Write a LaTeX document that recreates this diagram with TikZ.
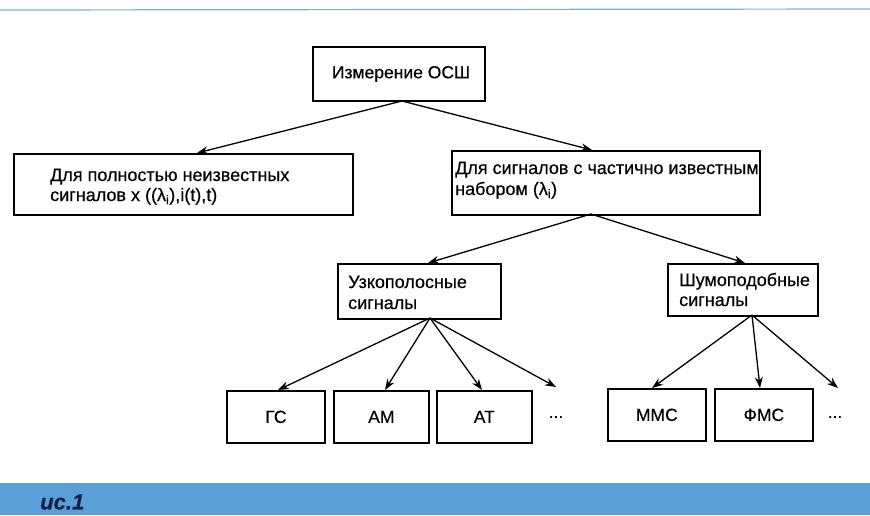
\documentclass[tikz,border=0pt]{standalone}
\usepackage{fontspec}
\setmainfont{Liberation Sans}[FakeBold=0.4]
\usetikzlibrary{arrows.meta}
\definecolor{band}{RGB}{88,160,215}
\definecolor{topline}{RGB}{120,175,220}
\definecolor{capt}{RGB}{20,30,70}
\begin{document}
\begin{tikzpicture}[x=1pt,y=-1pt,
  box/.style={draw=black,line width=1.7pt,inner sep=0pt},
  lbl/.style={anchor=base west,font=\fontsize{18}{20}\selectfont,inner sep=0pt},
  ctr/.style={font=\fontsize{17.5}{20}\selectfont,inner sep=0pt},
  arr/.style={-{Stealth[length=11pt,width=8pt]},line width=1.3pt}]
\useasboundingbox (0,0) rectangle (870,515);
% top line and bottom band
\draw[topline,line width=1.2pt] (0,10) -- (870,9);
\fill[band] (0,483) rectangle (870,515);
\node[text=capt,font=\fontsize{22}{24}\selectfont\bfseries\itshape,anchor=west,inner sep=0pt] (cap) at (40,502) {ис.1};
% boxes
\node[box,minimum width=172pt,minimum height=54pt] (top) at (399,74) {};
\node[ctr] (toptxt) at (401,74) {Измерение ОСШ};
\node[box,minimum width=339pt,minimum height=61pt,anchor=north west] (left) at (13,153) {};
\node[lbl] (l1) at (50,181) {Для полностью неизвестных};
\node[lbl] (l2) at (50,201) {сигналов x ((λ$_{\mathrm i}$),i(t),t)};
\node[box,minimum width=308pt,minimum height=64pt,anchor=north west] (right) at (451,150) {};
\node[lbl] (r1) at (455,174) {Для сигналов с частично известным};
\node[lbl] (r2) at (455,195) {набором (λ$_{\mathrm i}$)};
\node[box,minimum width=163pt,minimum height=55pt,anchor=north west] (uzk) at (337,263) {};
\node[lbl] (u1) at (348,288) {Узкополосные};
\node[lbl] (u2) at (348,309) {сигналы};
\node[box,minimum width=150pt,minimum height=52pt,anchor=north west] (shum) at (667,263) {};
\node[lbl] (s1) at (679,286) {Шумоподобные};
\node[lbl] (s2) at (679,306) {сигналы};
% bottom boxes
\node[box,minimum width=98pt,minimum height=52pt,anchor=north west] (gs) at (226,390) {};
\node[ctr] at (gs.center) {ГС};
\node[box,minimum width=95pt,minimum height=52pt,anchor=north west] (am) at (333,390) {};
\node[ctr] at (am.center) {АМ};
\node[box,minimum width=95pt,minimum height=52pt,anchor=north west] (at) at (436,390) {};
\node[ctr] at (at.center) {АТ};
\node[ctr] (d1) at (556,417) {...};
\node[box,minimum width=98pt,minimum height=52pt,anchor=north west] (mms) at (607,388) {};
\node[ctr] at (mms.center) {ММС};
\node[box,minimum width=98pt,minimum height=52pt,anchor=north west] (fms) at (714,388) {};
\node[ctr] at (fms.center) {ФМС};
\node[ctr] (d2) at (835,417) {...};
% arrow endpoints
\coordinate (tO) at (402,101);
\coordinate (rO) at (591,214);
\coordinate (uO) at (430,318);
\coordinate (sO) at (752,315);
\coordinate (d1e) at (556,387);
\coordinate (d2e) at (838,388);
% arrows
\draw[arr] (tO) -- (left.north -| 197,0);
\draw[arr] (tO) -- (right.north -| 592,0);
\draw[arr] (rO) -- (uzk.north -| 428,0);
\draw[arr] (rO) -- (shum.north -| 745,0);
\draw[arr] (uO) -- (gs.north -| 278,0);
\draw[arr] (uO) -- (am.north -| 385,0);
\draw[arr] (uO) -- (at.north -| 482,0);
\draw[arr] (uO) -- (d1e);
\draw[arr] (sO) -- (mms.north -| 652,0);
\draw[arr] (sO) -- (fms.north -| 760,0);
\draw[arr] (sO) -- (d2e);
\end{tikzpicture}
\end{document}
